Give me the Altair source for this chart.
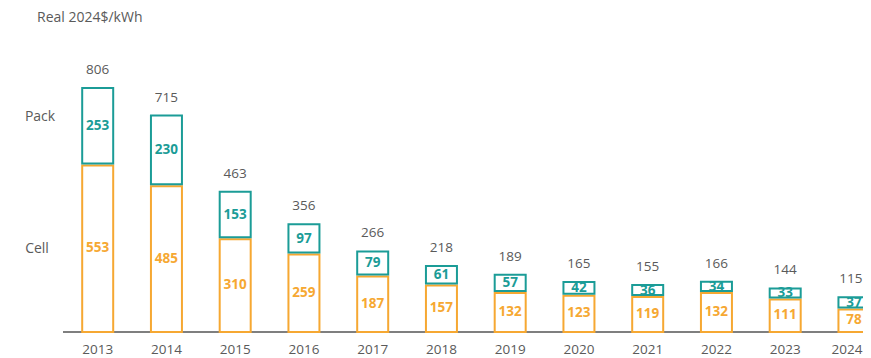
import altair as alt
import pandas as pd

years = [2013, 2014, 2015, 2016, 2017, 2018, 2019, 2020, 2021, 2022, 2023, 2024]
cell = [553, 485, 310, 259, 187, 157, 132, 123, 119, 132, 111, 78]
pack = [253, 230, 153, 97, 79, 61, 57, 42, 36, 34, 33, 37]
total = [806, 715, 463, 356, 266, 218, 189, 165, 155, 166, 144, 115]

TEAL = "#1b9c97"
ORANGE = "#f6a832"
GRAY = "#5a5a5a"
FONT = "Open Sans"

df = pd.DataFrame({
    "year": years,
    "cell": cell,
    "pack": pack,
    "total": total,
})
df["cell_mid"] = df["cell"] / 2
df["pack_mid"] = df["cell"] + df["pack"] / 2
df["zero"] = 0

xs = alt.Scale(domain=[2011.6953, 2024.1317], nice=False, zero=False, padding=0)
ys = alt.Scale(domain=[-85.9, 1070.4], nice=False, zero=False, padding=0)
X = alt.X("year:Q", scale=xs, axis=None)

base = alt.Chart(df)
last = alt.datum.year == 2024
notlast = alt.datum.year != 2024

cell_bar = base.mark_bar(fill="white", stroke=ORANGE, strokeWidth=2, width=31, yOffset=1).encode(
    x=X, y=alt.Y("cell:Q", scale=ys, axis=None), y2="zero:Q"
)
pack_bar = base.mark_bar(fill="white", stroke=TEAL, strokeWidth=2, width=31, y2Offset=-1).encode(
    x=X, y=alt.Y("total:Q", scale=ys, axis=None), y2="cell:Q"
)
cell_txt = base.mark_text(font=FONT, fontSize=13.5, fontWeight="bold", color=ORANGE, baseline="middle").encode(
    x=X, y=alt.Y("cell_mid:Q", scale=ys, axis=None), text="cell:Q"
)
pack_txt = base.mark_text(font=FONT, fontSize=13.5, fontWeight="bold", color=TEAL, baseline="middle").encode(
    x=X, y=alt.Y("pack_mid:Q", scale=ys, axis=None), text="pack:Q"
)
tot_txt = base.transform_filter(notlast).mark_text(font=FONT, fontSize=13.5, color=GRAY, baseline="middle", dy=-18).encode(
    x=X, y=alt.Y("total:Q", scale=ys, axis=None), text="total:Q"
)
tot_txt_last = base.transform_filter(last).mark_text(font=FONT, fontSize=13.5, color=GRAY, baseline="middle", dy=-18, dx=-3).encode(
    x=X, y=alt.Y("total:Q", scale=ys, axis=None), text="total:Q"
)
year_txt = base.transform_filter(notlast).mark_text(font=FONT, fontSize=13.5, color=GRAY, baseline="middle").encode(
    x=X, y=alt.value(342), text="year:N"
)
year_txt_last = base.transform_filter(last).mark_text(font=FONT, fontSize=13.5, color=GRAY, baseline="middle", dx=-7).encode(
    x=X, y=alt.value(342), text="year:N"
)
baseline = alt.Chart(pd.DataFrame({"v": [0]})).mark_rule(color="#555555", strokeWidth=1.5).encode(
    y=alt.Y("v:Q", scale=ys, axis=None), x=alt.value(55), x2=alt.value(855)
)

unit_txt = alt.Chart(pd.DataFrame({"t": ["Real 2024$/kWh"]})).mark_text(
    font=FONT, fontSize=14, color=GRAY, align="left", baseline="middle"
).encode(x=alt.value(29), y=alt.value(10), text="t:N")
pack_lbl = alt.Chart(pd.DataFrame({"t": ["Pack"]})).mark_text(
    font=FONT, fontSize=14, color=GRAY, baseline="middle"
).encode(x=alt.value(32), y=alt.value(109), text="t:N")
cell_lbl = alt.Chart(pd.DataFrame({"t": ["Cell"]})).mark_text(
    font=FONT, fontSize=14, color=GRAY, baseline="middle"
).encode(x=alt.value(29), y=alt.value(241), text="t:N")

chart = alt.layer(
    baseline, cell_bar, pack_bar, cell_txt, pack_txt, tot_txt, tot_txt_last,
    year_txt, year_txt_last, unit_txt, pack_lbl, cell_lbl
).properties(
    width=855, height=350,
    autosize=alt.AutoSizeParams(type="none"),
    padding={"left": 0, "right": 0, "top": 0, "bottom": 0},
    background="white",
).configure_view(stroke=None)

chart.save("out.html", embed_options={"renderer": "svg", "actions": False})
